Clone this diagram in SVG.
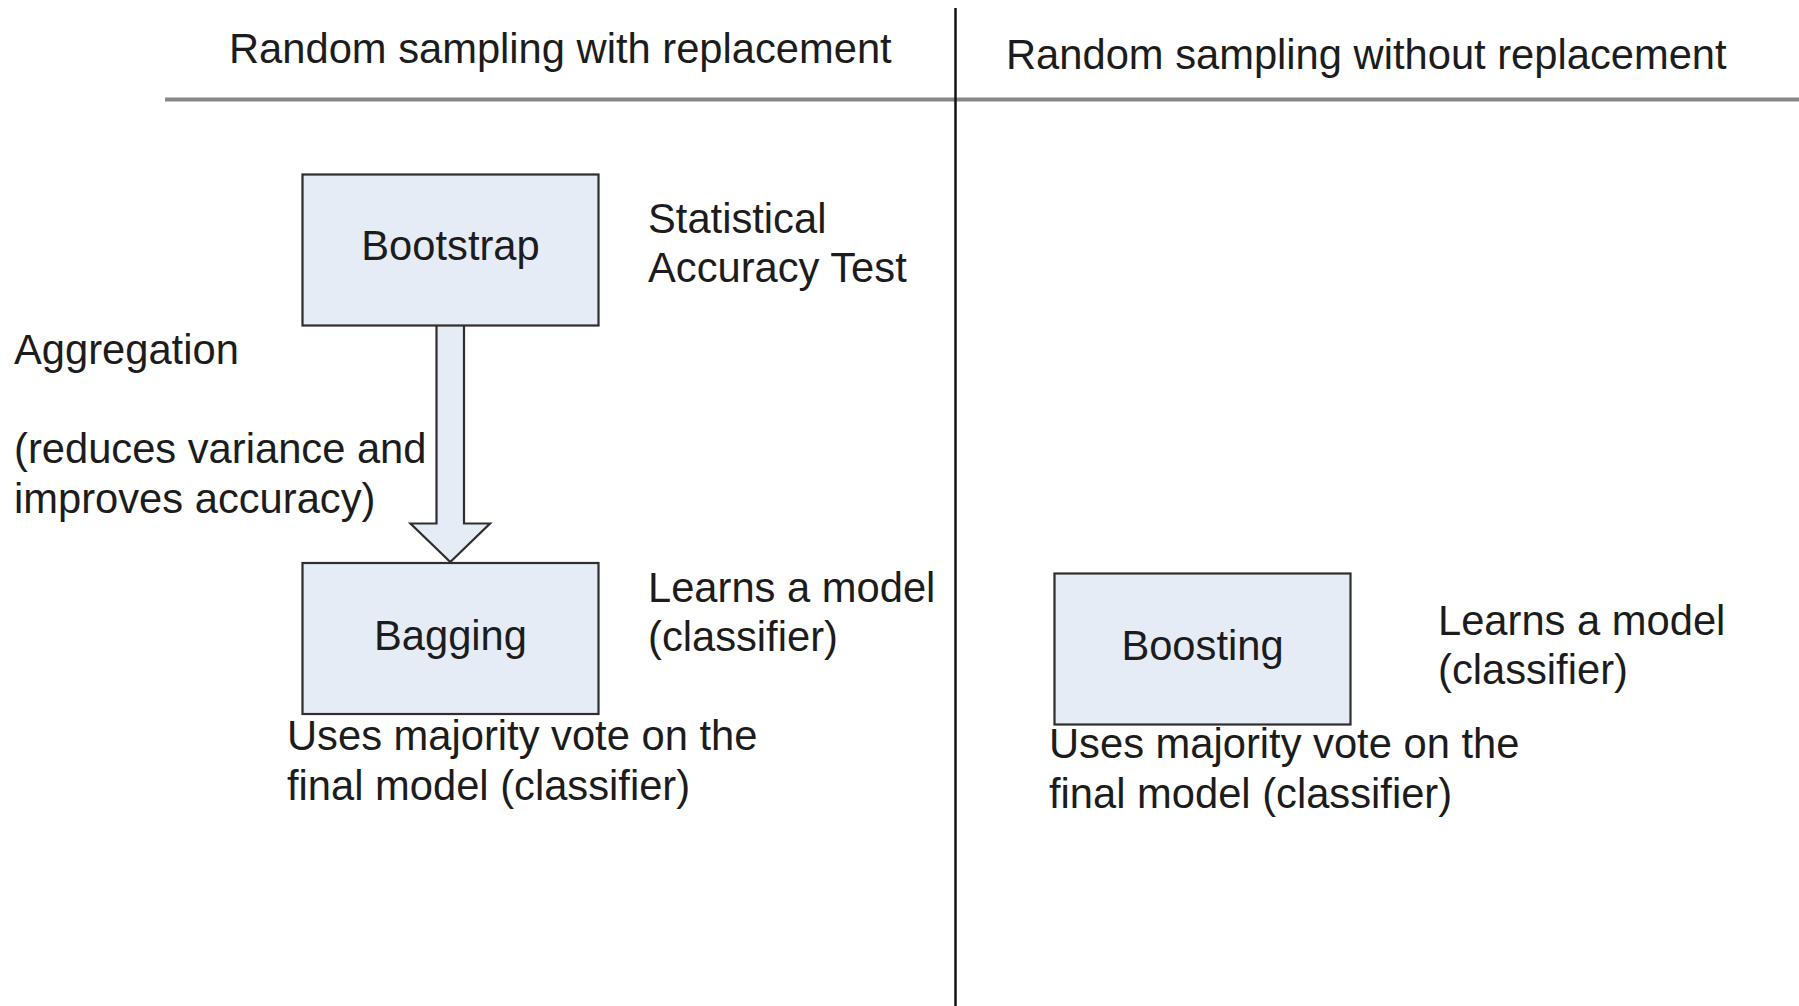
<svg xmlns="http://www.w3.org/2000/svg" width="1799" height="1006" viewBox="0 0 1799 1006">
<style>
text{font-family:"Liberation Sans",Arial,sans-serif;font-size:41.7px;fill:#1c1c1c}
.box{fill:#e6ecf6;stroke:#2e2e2e;stroke-width:2.2}
.c{text-anchor:middle}
</style>
<rect width="1799" height="1006" fill="#ffffff"/>
<g id="dividers">
<line x1="165" y1="99.5" x2="1799" y2="99.5" stroke="#878787" stroke-width="4"/>
<line x1="955.5" y1="8" x2="955.5" y2="1006" stroke="#111" stroke-width="2.5"/>
</g>
<g id="headers">
<text x="229" y="63">Random sampling with replacement</text>
<text x="1006" y="69">Random sampling without replacement</text>
</g>
<g id="connectors">
<polygon class="box" points="436.5,324 464,324 464,523.5 490,523.5 450.3,562 410.5,523.5 436.5,523.5"/>
</g>
<g id="node-bootstrap">
<rect class="box" x="302.5" y="174.5" width="296" height="151"/>
<text class="c" x="450.5" y="260">Bootstrap</text>
</g>
<g id="node-bagging">
<rect class="box" x="302.5" y="563" width="296" height="151"/>
<text class="c" x="450.5" y="650">Bagging</text>
</g>
<g id="node-boosting">
<rect class="box" x="1054.5" y="573.5" width="296" height="151"/>
<text class="c" x="1202.5" y="660">Boosting</text>
</g>
<g id="labels">
<text x="648" y="233">Statistical</text>
<text x="648" y="282">Accuracy Test</text>
<text x="14" y="364">Aggregation</text>
<text x="14" y="463">(reduces variance and</text>
<text x="14" y="513">improves accuracy)</text>
<text x="648" y="602">Learns a model</text>
<text x="648" y="651">(classifier)</text>
<text x="287" y="750">Uses majority vote on the</text>
<text x="287" y="800">final model (classifier)</text>
<text x="1438" y="635">Learns a model</text>
<text x="1438" y="684">(classifier)</text>
<text x="1049" y="758">Uses majority vote on the</text>
<text x="1049" y="808">final model (classifier)</text>
</g>
</svg>
